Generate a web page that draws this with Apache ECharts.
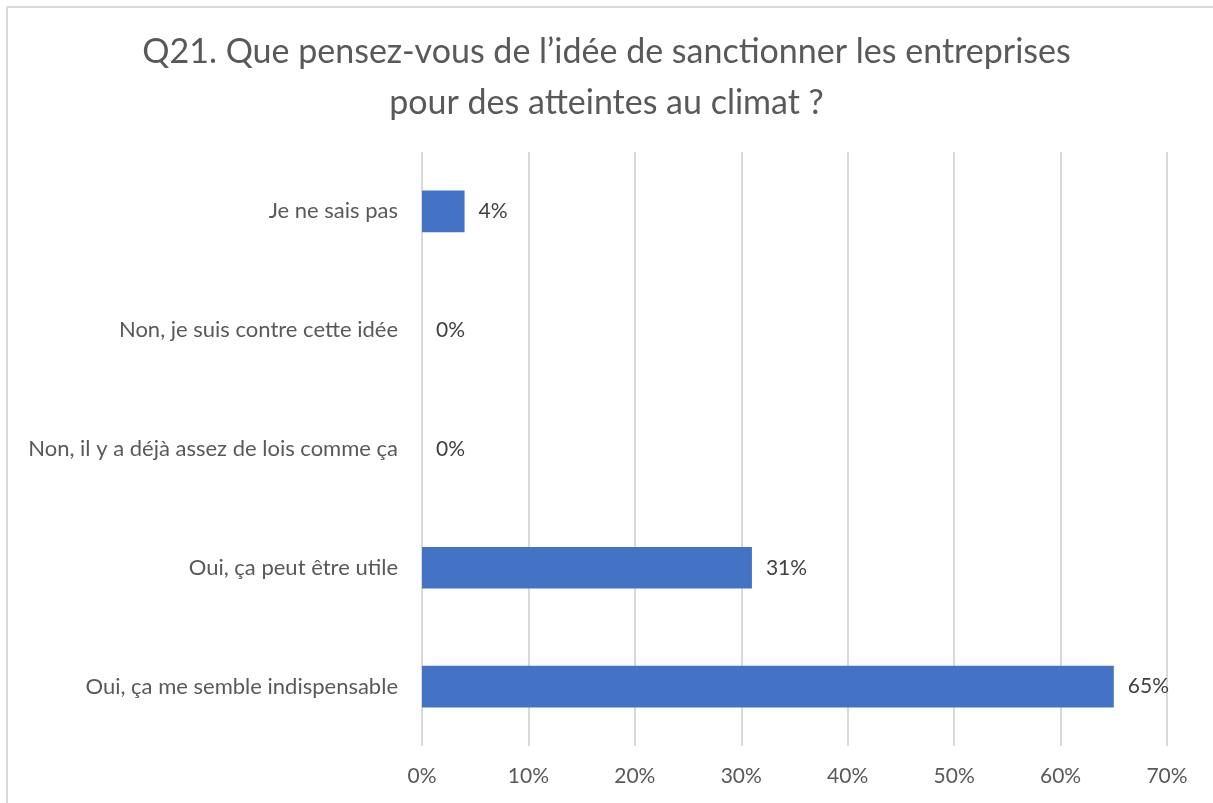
<!DOCTYPE html>
<html>
<head>
<meta charset="utf-8">
<script src="https://cdn.jsdelivr.net/npm/echarts@6/dist/echarts.min.js"></script>
<style>
  html, body { margin: 0; padding: 0; background: #fff; }
  #main { width: 1213px; height: 803px; }
</style>
</head>
<body>
<div id="main"></div>
<script>
// categories, bottom to top as they are drawn on the y axis
var categories = [
  'Oui, ça me semble indispensable',
  'Oui, ça peut être utile',
  'Non, il y a déjà assez de lois comme ça',
  'Non, je suis contre cette idée',
  'Je ne sais pas'
];
var values = [65, 31, 0, 0, 4];
var xTicks = [0, 10, 20, 30, 40, 50, 60, 70];

var font = 'Lato, "Open Sans", sans-serif';
var chart = echarts.init(document.getElementById('main'));

var option = {
  backgroundColor: '#ffffff',
  animation: false,
  title: {
    text: 'Q21. Que pensez-vous de l’idée de sanctionner les entreprises\npour des atteintes au climat ?',
    left: 'center',
    top: 22,
    padding: [5, 0, 5, 16],
    textStyle: {
      fontFamily: font,
      fontSize: 34,
      fontWeight: 'normal',
      color: '#595959',
      lineHeight: 51
    }
  },
  graphic: [
    { type: 'line', shape: { x1: 7, y1: 7, x2: 1213, y2: 7 }, style: { stroke: '#d9d9d9', lineWidth: 2 } },
    { type: 'line', shape: { x1: 7, y1: 7, x2: 7, y2: 803 }, style: { stroke: '#d9d9d9', lineWidth: 2 } }
  ],
  grid: { left: 422, right: 46, top: 152, bottom: 57 },
  xAxis: {
    type: 'value',
    min: xTicks[0],
    max: xTicks[xTicks.length - 1],
    interval: 10,
    axisLine: { show: false },
    axisTick: { show: false },
    splitLine: { lineStyle: { color: '#d9d9d9', width: 2 } },
    axisLabel: {
      formatter: '{value}%',
      margin: 20,
      fontFamily: font,
      fontSize: 21,
      color: '#595959'
    }
  },
  yAxis: {
    type: 'category',
    data: categories,
    axisLine: { show: false },
    axisTick: { show: false },
    axisLabel: {
      margin: 24,
      fontFamily: font,
      fontSize: 22,
      color: '#595959'
    }
  },
  series: [{
    type: 'bar',
    data: values,
    barWidth: '35%',
    itemStyle: { color: '#4472c4' },
    label: {
      show: true,
      position: 'right',
      distance: 14,
      formatter: '{c}%',
      fontFamily: font,
      fontSize: 21,
      color: '#404040'
    }
  }]
};
chart.setOption(option);
</script>
</body>
</html>
